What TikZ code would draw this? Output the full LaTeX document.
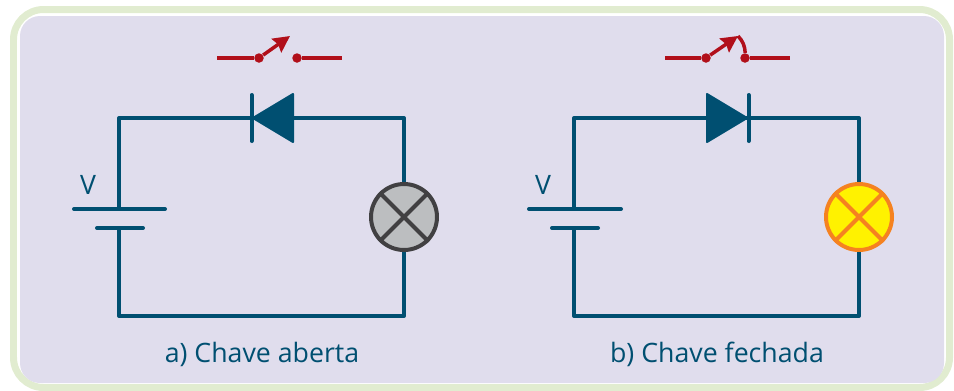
\documentclass[tikz,border=0pt]{standalone}
\usepackage{fontspec}
\setmainfont{Open Sans}
\usetikzlibrary{arrows.meta}
\definecolor{wireBlue}{HTML}{004F71}
\definecolor{switchRed}{HTML}{B10F1A}
\definecolor{panelLilac}{HTML}{E0DDED}
\definecolor{frameGreen}{HTML}{E1ECD0}
\definecolor{lampGray}{HTML}{BCBEC0}
\definecolor{lampDark}{HTML}{414042}
\definecolor{lampYellow}{HTML}{FFF200}
\definecolor{lampOrange}{HTML}{F58220}

\begin{document}
\begin{tikzpicture}
[x=0.02cm,y=-0.02cm,%
  wireDecorate/.style={-,draw=wireBlue,line width=0.08cm,line join=round},%
  plateDecorate/.style={wireDecorate,line cap=round},%
  diodeDecorate/.style={draw=wireBlue,fill=wireBlue,line width=0.04cm,line join=round},%
  switchDecorate/.style={-,draw=switchRed,line width=0.07cm},%
  contactDecorate/.style={shape=circle,fill=switchRed,inner sep=0pt,minimum size=0.19cm},%
  lampOff/.style={shape=circle,draw=lampDark,fill=lampGray,line width=0.08cm,inner sep=0pt,minimum size=1.32cm},%
  lampOn/.style={shape=circle,draw=lampOrange,fill=lampYellow,line width=0.08cm,inner sep=0pt,minimum size=1.32cm},%
  textDecorate/.style={text=wireBlue,font=\fontsize{15.2pt}{18pt}\selectfont}]
\useasboundingbox (0,0) rectangle (954,390);
%% frame and panel
\draw[frameGreen,line width=0.14cm,rounded corners=0.6cm] (13.5,9.5) rectangle (949.5,387.5);
\fill[panelLilac,rounded corners=0.4cm] (20,16) rectangle (944,383);
%% corners and plate ends
\foreach \nodename/\x/\y in {
  aTL/119/118, aTR/404/118, aBL/119/316, aBR/404/316,
  aLongL/74/209, aLongR/165/209, aShortL/97/228, aShortR/143/228,
  aLongM/119/209, aShortM/119/228, aBarT/251.5/95, aBarB/251.5/141,
  aBaseT/293/94, aBaseB/293/142, aBaseM/293/118, aBarM/253/118,
  aSwL/217/58, aSwR/342/58, aTip/290/36,
  bTL/574/118, bTR/859/118, bBL/574/316, bBR/859/316,
  bLongL/529/209, bLongR/621/209, bShortL/552/228, bShortR/598/228,
  bLongM/574/209, bShortM/574/228, bBarT/748.5/95, bBarB/748.5/141,
  bBaseT/707/94, bBaseB/707/142, bBaseM/707/118, bBarM/747/118,
  bSwL/665/58, bSwR/790/58, bTip/738/36}
{
  \coordinate (\nodename) at (\x,\y);
}
%% lamps, contacts and labels
\node (aLamp) at (404,217) [lampOff] {};
\node (bLamp) at (859,217) [lampOn] {};
\node (aPivot) at (259,58) [contactDecorate] {};
\node (aStud) at (297,58) [contactDecorate] {};
\node (bPivot) at (706,58) [contactDecorate] {};
\node (bStud) at (745,58) [contactDecorate] {};
\node (aVolt) at (88,185) [textDecorate] {V};
\node (bVolt) at (543,185) [textDecorate] {V};
\node (aLabel) at (262,354) [textDecorate] {a) Chave aberta};
\node (bLabel) at (717,354) [textDecorate] {b) Chave fechada};
%% wires
\foreach \c in {a,b}
{
  \draw[wireDecorate] (\c LongM) -- (\c TL) -- (\c TR) -- (\c Lamp);
  \draw[wireDecorate] (\c ShortM) -- (\c BL) -- (\c BR) -- (\c Lamp);
  \draw[plateDecorate] (\c LongL) -- (\c LongR);
  \draw[plateDecorate] (\c ShortL) -- (\c ShortR);
  \draw[plateDecorate] (\c BarT) -- (\c BarB);
  \draw[switchDecorate] (\c SwL) -- (\c Pivot);
  \draw[switchDecorate] (\c Stud) -- (\c SwR);
  \draw[switchDecorate,-{Stealth[length=0.33cm,width=0.33cm,inset=0.04cm]}] (\c Pivot) -- (\c Tip);
}
%% diodes
\draw[diodeDecorate] (aBaseT) -- (aBaseB) -- (aBarM) -- cycle;
\draw[diodeDecorate] (bBaseT) -- (bBaseB) -- (bBarM) -- cycle;
%% closed contact
\draw[switchDecorate] (bTip) to[bend left=20] (bStud);
%% lamp crosses
\draw[lampDark,line width=0.08cm] (aLamp.45) -- (aLamp.225) (aLamp.135) -- (aLamp.315);
\draw[lampOrange,line width=0.08cm] (bLamp.45) -- (bLamp.225) (bLamp.135) -- (bLamp.315);
\end{tikzpicture}
\end{document}
